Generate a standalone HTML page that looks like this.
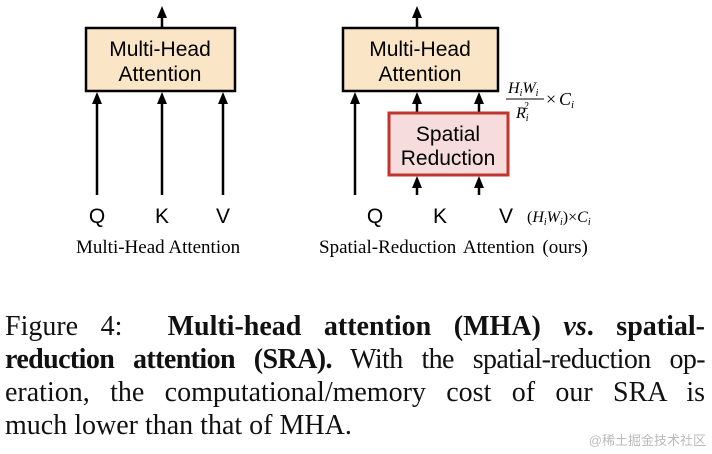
<!DOCTYPE html>
<html><head><style>
body{margin:0;width:712px;height:454px;background:#fff;overflow:hidden;position:relative;font-family:"Liberation Serif",serif}
.l{position:absolute;left:5px;width:700px;font-size:28px;line-height:33px;white-space:nowrap;color:#111;text-align:justify;text-align-last:justify}
.wm{position:absolute;right:6px;top:430px;font-family:"Liberation Sans","Noto Sans CJK SC",sans-serif;font-size:13px;color:#bbb}
</style></head><body>
<svg width="712" height="300" style="position:absolute;left:0;top:0">
<g stroke="#000" stroke-width="2.5" fill="none">
<line x1="162" y1="28" x2="162" y2="16"/>
<line x1="97" y1="195" x2="97" y2="100"/>
<line x1="162" y1="195" x2="162" y2="100"/>
<line x1="223" y1="195" x2="223" y2="100"/>
<line x1="417" y1="28" x2="417" y2="16"/>
<line x1="355" y1="195" x2="355" y2="100"/>
<line x1="417" y1="113" x2="417" y2="100"/>
<line x1="479" y1="113" x2="479" y2="100"/>
<line x1="417" y1="195" x2="417" y2="184"/>
<line x1="479" y1="195" x2="479" y2="184"/>
</g>
<g fill="#000">
<polygon points="162,6 157,18 167,18"/>
<polygon points="417,6 412,18 422,18"/>
<polygon points="97,92 92,104 102,104"/>
<polygon points="162,92 157,104 167,104"/>
<polygon points="223,92 218,104 228,104"/>
<polygon points="355,92 350,104 360,104"/>
<polygon points="417,92 412,104 422,104"/>
<polygon points="479,92 474,104 484,104"/>
<polygon points="417,176 412,188 422,188"/>
<polygon points="479,176 474,188 484,188"/>
</g>
<rect x="86" y="28" width="149" height="63" fill="#fae5c6" stroke="#000" stroke-width="2.5"/>
<rect x="343" y="28" width="155" height="63" fill="#fae5c6" stroke="#000" stroke-width="2.5"/>
<rect x="389" y="113" width="119" height="62" fill="#f6dcdc" stroke="#c0352e" stroke-width="3"/>
<g font-family="Liberation Sans,sans-serif" font-size="21" text-anchor="middle" fill="#000">
<text x="160" y="56">Multi-Head</text><text x="160" y="81">Attention</text>
<text x="420" y="56">Multi-Head</text><text x="420" y="81">Attention</text>
<text x="448" y="141">Spatial</text><text x="448" y="165">Reduction</text>
<text x="97" y="223">Q</text><text x="162" y="223">K</text><text x="223" y="223">V</text>
<text x="375" y="223">Q</text><text x="440" y="223">K</text><text x="506" y="223">V</text>
</g>
<g font-family="Liberation Serif,serif" font-style="italic" font-size="16" fill="#000">
<text x="508" y="93">H<tspan font-size="10" dy="3">i</tspan><tspan dy="-3">W</tspan><tspan font-size="10" dy="3">i</tspan></text>
<line x1="506" y1="99" x2="544" y2="99" stroke="#000" stroke-width="1"/>
<text x="516" y="118">R<tspan font-size="10" dy="3">i</tspan><tspan font-size="10" dx="-5" dy="-12">2</tspan></text>
<text x="546" y="105" font-style="normal" font-size="18">×</text><text x="559" y="105" font-size="18">C<tspan font-size="11" dy="3">i</tspan></text>
<text x="527" y="222"><tspan font-style="normal">(</tspan>H<tspan font-size="10" dy="3">i</tspan><tspan dy="-3">W</tspan><tspan font-size="10" dy="3">i</tspan><tspan font-style="normal" dy="-3">)×</tspan>C<tspan font-size="10" dy="3">i</tspan></text>
</g>
<g font-family="Liberation Serif,serif" font-size="19" fill="#000">
<text x="76" y="253">Multi-Head Attention</text>
<text x="319" y="253" word-spacing="3">Spatial-Reduction Attention (ours)</text>
</g>
</svg>
<div class="l" style="top:310px">Figure 4:&nbsp; <b>Multi-head attention (MHA)</b> <b><i>vs</i>. spatial-</b></div>
<div class="l" style="top:343px;letter-spacing:-0.6px"><b>reduction attention (SRA).</b> With the spatial-reduction op-</div>
<div class="l" style="top:376px">eration, the computational/memory cost of our SRA is</div>
<div class="l" style="top:409px;text-align:left;text-align-last:left">much lower than that of MHA.</div>
<div class="wm">@稀土掘金技术社区</div>
</body></html>
